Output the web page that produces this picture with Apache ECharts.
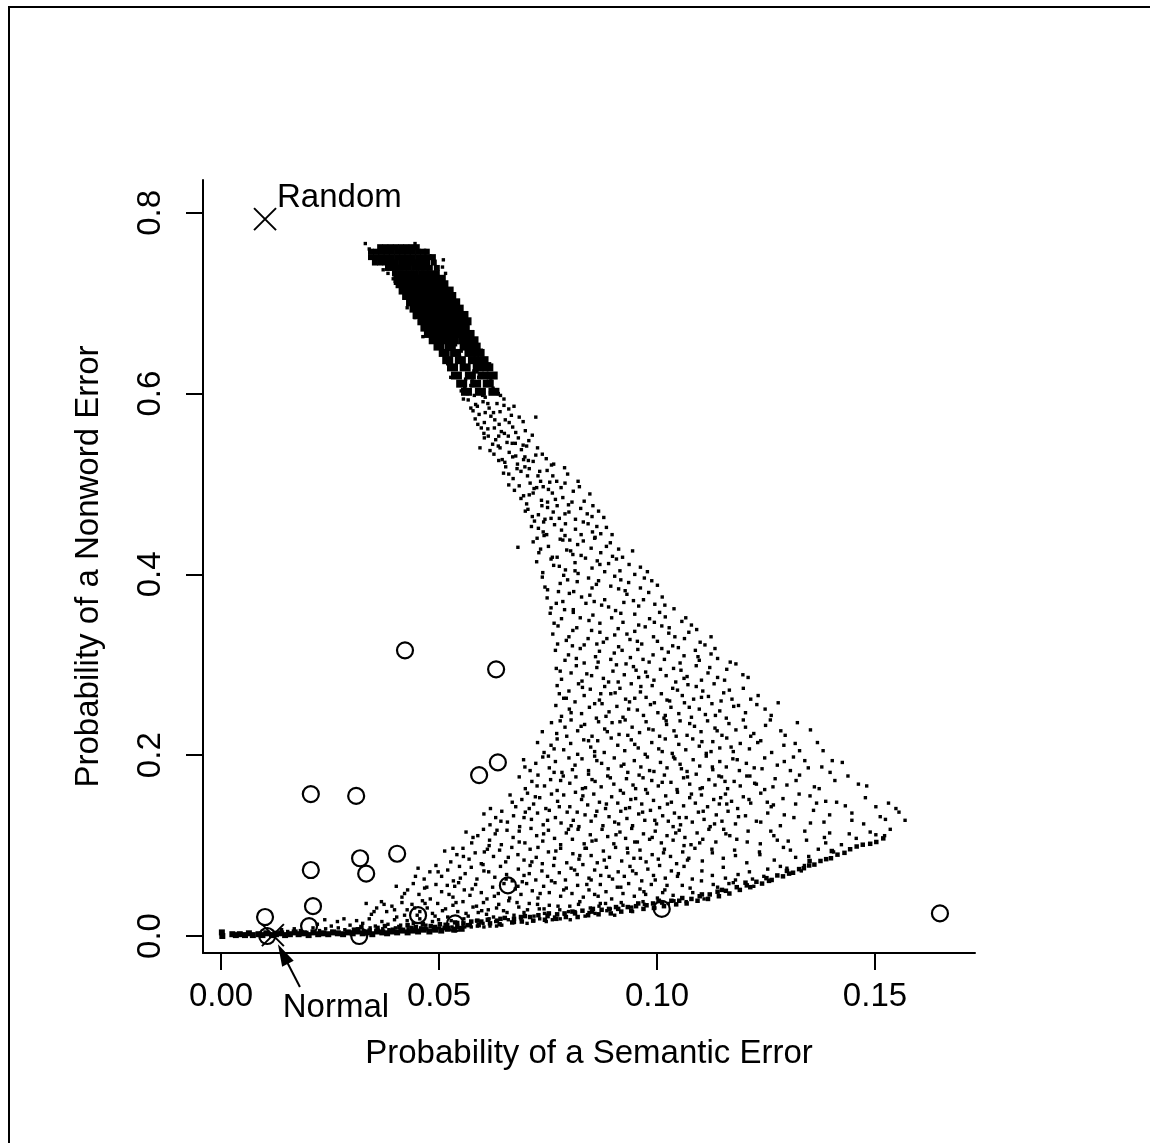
<!DOCTYPE html>
<html><head><meta charset="utf-8">
<script src="https://cdn.jsdelivr.net/npm/echarts@6/dist/echarts.min.js"></script>
<style>html,body{margin:0;padding:0;background:#fff}#c{width:1150px;height:1143px}</style>
</head><body><div id="c"></div>
<script>
// ---- tick values ----
const xTicks = [0, 0.05, 0.10, 0.15];
const yTicks = [0, 0.2, 0.4, 0.6, 0.8];

// ---- simulated networks: dense top cluster (solid core) ----
const clusterCore = [
[.0365,.762],[.0377,.762],[.0389,.762],[.0401,.762],[.0413,.762],[.0425,.762],[.0437,.762],[.0449,.762],
[.0344,.757],[.0356,.757],[.0368,.757],[.0380,.757],[.0392,.757],[.0404,.757],[.0416,.757],[.0428,.757],[.0440,.757],[.0452,.757],[.0464,.757],[.0472,.757],
[.0344,.751],[.0356,.751],[.0368,.751],[.0380,.751],[.0392,.751],[.0404,.751],[.0416,.751],[.0428,.751],[.0440,.751],[.0452,.751],[.0464,.751],[.0476,.751],[.0486,.751],
[.0353,.745],[.0365,.745],[.0377,.745],[.0389,.745],[.0401,.745],[.0413,.745],[.0425,.745],[.0437,.745],[.0449,.745],[.0461,.745],[.0473,.745],[.0488,.745],
[.0383,.739],[.0395,.739],[.0407,.739],[.0419,.739],[.0431,.739],[.0443,.739],[.0455,.739],[.0467,.739],[.0479,.739],[.0495,.739],
[.0399,.733],[.0411,.733],[.0423,.733],[.0435,.733],[.0447,.733],[.0459,.733],[.0471,.733],[.0483,.733],[.0495,.733]
];

// ---- upper stem, dense part ----
const stemDense = [
[.0408,.727],[.0425,.727],[.0447,.727],[.0466,.727],[.0489,.727],[.0503,.727],
[.0413,.721],[.0432,.721],[.0455,.721],[.0474,.721],[.0495,.721],[.0509,.721],
[.0420,.714],[.0441,.714],[.0460,.714],[.0483,.714],[.0502,.714],[.0521,.714],
[.0428,.708],[.0446,.708],[.0469,.708],[.0490,.708],[.0511,.708],[.0527,.708],
[.0437,.701],[.0455,.701],[.0478,.701],[.0497,.701],[.0519,.701],[.0536,.701],
[.0445,.694],[.0466,.694],[.0486,.694],[.0508,.694],[.0530,.694],[.0544,.694],
[.0452,.687],[.0474,.687],[.0493,.687],[.0516,.687],[.0538,.687],[.0555,.687],
[.0463,.680],[.0481,.680],[.0504,.680],[.0525,.680],[.0547,.680],[.0562,.680],
[.0470,.673],[.0492,.673],[.0513,.673],[.0536,.673],[.0558,.673],
[.0478,.666],[.0500,.666],[.0522,.666],[.0545,.666],[.0569,.666],
[.0489,.659],[.0511,.659],[.0533,.659],[.0557,.659],[.0578,.659],
[.0500,.652],[.0526,.652],[.0560,.652],[.0583,.652],
[.0512,.645],[.0538,.645],[.0571,.645],[.0592,.645],
[.0520,.637],[.0549,.637],[.0579,.637],[.0601,.637],
[.0531,.629],[.0560,.629],[.0590,.629],[.0612,.629],
[.0540,.620],[.0572,.620],[.0601,.620],[.0622,.620],
[.0552,.611],[.0584,.611],[.0613,.611],
[.0563,.602],[.0595,.602],[.0626,.602]
];

// ---- stem, scattered dots ----
const stemDots = [
[.0331,.766],[.0445,.766],[.0340,.760],[.0510,.748],[.0508,.740],[.0383,.733],[.0395,.727],[.0400,.722],[.0372,.737],[.0515,.733],
[.0427,.695],[.0445,.684],[.0463,.663],[.0484,.659],
[.0505,.652],[.0523,.649],[.0538,.654],[.0551,.647],[.0569,.651],[.0584,.645],[.0512,.643],[.0547,.641],[.0575,.639],[.0597,.648],
[.0520,.633],[.0534,.628],[.0552,.636],[.0566,.630],[.0580,.625],[.0600,.633],[.0613,.627],[.0541,.622],[.0572,.620],[.0591,.618],[.0527,.618],
[.0545,.612],[.0559,.607],[.0577,.614],[.0592,.604],[.0608,.611],[.0624,.606],[.0636,.600],[.0565,.600],[.0600,.598],[.0551,.603],
[.0567,.593],[.0584,.588],[.0601,.591],[.0615,.584],[.0633,.589],[.0649,.594],[.0660,.583],[.0578,.581],[.0625,.579],[.0592,.577],
[.0583,.572],[.0604,.568],[.0619,.575],[.0638,.566],[.0652,.571],[.0669,.563],[.0684,.574],[.0612,.561],[.0643,.558],[.0597,.562],
[.0613,.553],[.0630,.549],[.0650,.556],[.0668,.545],[.0682,.551],[.0701,.542],[.0714,.554],[.0640,.540],[.0689,.538],[.0623,.544],
[.0626,.533],[.0645,.527],[.0661,.535],[.0680,.522],[.0697,.530],[.0716,.525],[.0737,.533],[.0758,.521],[.0653,.519],[.0707,.517],
[.0648,.512],[.0670,.506],[.0688,.514],[.0709,.501],[.0727,.509],[.0748,.515],[.0770,.503],[.0795,.511],[.0660,.499],[.0739,.497],
[.0673,.493],[.0694,.487],[.0718,.495],[.0735,.482],[.0760,.490],[.0784,.485],[.0808,.492],[.0833,.481],[.0701,.478],[.0771,.476],
[.0704,.472],[.0728,.466],[.0749,.474],[.0776,.462],[.0798,.469],[.0825,.473],[.0851,.464],[.0866,.470],[.0740,.458],
[.0712,.453],[.0739,.447],[.0765,.455],[.0789,.443],[.0813,.450],[.0842,.456],[.0871,.445],[.0884,.452],[.0725,.440],[.0800,.438],
[.0594,.540],[.0722,.574],[.0681,.430],[.0616,.633],
[.0573,.609],[.0606,.596],[.0588,.586],[.0628,.571],[.0603,.556],[.0659,.553],[.0636,.542],[.0676,.531],[.0651,.524],[.0703,.509],[.0679,.517],[.0724,.496],[.0754,.502],[.0688,.484],[.0749,.480],[.0797,.477],[.0714,.464],[.0762,.469],[.0813,.461],[.0853,.476],[.0728,.451],[.0781,.449],[.0826,.444],[.0858,.441],[.0693,.569],[.0666,.576],[.0641,.598],[.0612,.589],[.0675,.545],[.0726,.540],[.0694,.527],[.0731,.514],[.0763,.522],[.0780,.496],[.0819,.503],[.0846,.489],[.0707,.488],[.0743,.461],[.0790,.456],[.0878,.463],
[.0561,.616],[.0587,.624],[.0619,.617],[.0556,.594],[.0581,.598],[.0618,.601],[.0649,.587],[.0573,.584],[.0606,.579],[.0640,.580],[.0672,.586],[.0589,.566],[.0627,.562],[.0661,.568],[.0698,.559],[.0604,.551],[.0637,.553],[.0676,.557],[.0706,.548],[.0617,.537],[.0656,.546],[.0693,.543],[.0722,.532],[.0637,.526],[.0669,.530],[.0705,.526],[.0746,.528],[.0660,.511],[.0697,.519],[.0733,.503],[.0761,.509],[.0788,.518],[.0684,.498],[.0716,.490],[.0751,.494],[.0789,.501],[.0822,.497],[.0698,.470],[.0736,.476],[.0767,.483],[.0805,.480],[.0840,.467],[.0719,.459],[.0757,.462],[.0789,.467],[.0831,.458],[.0862,.453],[.0747,.444],[.0778,.439],[.0852,.447],[.0897,.444]
];

// ---- fan, upper half (y 0.20 - 0.44) ----
const fanUpper = [
[.0716,.436],[.0729,.424],[.0751,.431],[.0760,.419],[.0784,.438],[.0793,.427],[.0818,.433],[.0826,.421],[.0849,.429],[.0857,.440],[.0871,.424],[.0893,.435],[.0898,.420],[.0912,.428],[.0741,.443],[.0807,.422],
[.0724,.414],[.0738,.402],[.0763,.410],[.0771,.419],[.0790,.405],[.0812,.413],[.0819,.401],[.0836,.418],[.0851,.407],[.0863,.415],[.0880,.403],[.0889,.412],[.0907,.417],[.0915,.404],[.0936,.411],[.0949,.400],[.0962,.408],[.0978,.403],
[.0737,.397],[.0749,.383],[.0778,.390],[.0786,.399],[.0809,.381],[.0817,.392],[.0843,.396],[.0851,.385],[.0866,.393],[.0894,.387],[.0903,.398],[.0927,.382],[.0935,.391],[.0962,.385],[.0971,.396],[.1001,.388],
[.0748,.374],[.0757,.363],[.0784,.370],[.0799,.379],[.0808,.361],[.0837,.368],[.0846,.377],[.0873,.366],[.0880,.372],[.0905,.360],[.0924,.369],[.0931,.378],[.0958,.365],[.0969,.372],[.0995,.367],[.1012,.375],[.1039,.362],
[.0755,.357],[.0773,.343],[.0781,.351],[.0808,.358],[.0816,.341],[.0844,.349],[.0853,.355],[.0869,.346],[.0896,.352],[.0911,.340],[.0922,.347],[.0949,.356],[.0958,.344],[.0983,.351],[.0994,.347],[.1019,.353],[.1028,.341],[.1057,.348],[.1079,.344],
[.0761,.334],[.0772,.323],[.0798,.331],[.0807,.338],[.0833,.322],[.0842,.329],[.0869,.336],[.0877,.325],[.0903,.333],[.0912,.320],[.0938,.328],[.0949,.337],[.0965,.323],[.0992,.331],[.1001,.326],[.1027,.335],[.1036,.321],[.1063,.329],[.1073,.336],[.1099,.325],[.1124,.331],
[.0767,.316],[.0789,.305],[.0797,.311],[.0824,.318],[.0833,.302],[.0859,.309],[.0868,.315],[.0894,.306],[.0902,.313],[.0929,.301],[.0939,.308],[.0956,.317],[.0982,.303],[.0991,.311],[.1017,.306],[.1026,.314],[.1053,.302],[.1062,.310],[.1088,.316],[.1097,.305],[.1124,.312],[.1139,.307],[.1168,.303],
[.0769,.296],[.0781,.284],[.0803,.291],[.0815,.299],[.0828,.282],[.0850,.288],[.0862,.297],[.0877,.285],[.0899,.293],[.0911,.281],[.0925,.289],[.0946,.298],[.0958,.286],[.0974,.292],[.0993,.283],[.1008,.295],[.1021,.288],[.1043,.281],[.1055,.294],[.1069,.287],[.1090,.299],[.1102,.283],[.1117,.291],[.1139,.286],[.1160,.295],[.1197,.289],
[.0771,.277],[.0786,.263],[.0798,.271],[.0820,.279],[.0833,.266],[.0847,.273],[.0868,.261],[.0880,.276],[.0894,.268],[.0915,.274],[.0928,.262],[.0941,.279],[.0962,.270],[.0975,.264],[.0989,.277],[.1010,.268],[.1023,.261],[.1036,.274],[.1058,.266],[.1071,.278],[.1084,.262],[.1105,.271],[.1118,.265],[.1131,.279],[.1153,.269],[.1172,.262],[.1198,.274],[.1232,.266],
[.0768,.255],[.0781,.243],[.0799,.251],[.0812,.259],[.0827,.246],[.0845,.253],[.0861,.241],[.0874,.257],[.0890,.248],[.0908,.254],[.0922,.242],[.0937,.259],[.0955,.250],[.0969,.244],[.0985,.256],[.1002,.247],[.1016,.241],[.1032,.253],[.1050,.246],[.1063,.258],[.1079,.242],[.1097,.251],[.1111,.245],[.1126,.257],[.1144,.249],[.1159,.241],[.1176,.254],[.1203,.247],[.1229,.256],[.1262,.244],
[.0758,.236],[.0770,.224],[.0789,.231],[.0803,.239],[.0818,.227],[.0834,.234],[.0851,.221],[.0866,.237],[.0880,.229],[.0897,.236],[.0913,.223],[.0927,.239],[.0943,.231],[.0960,.225],[.0975,.237],[.0991,.228],[.1006,.221],[.1022,.234],[.1039,.227],[.1053,.238],[.1069,.222],[.1086,.232],[.1101,.226],[.1116,.238],[.1133,.230],[.1149,.222],[.1165,.235],[.1181,.228],[.1198,.239],[.1222,.224],[.1249,.233],[.1284,.227],[.1322,.236],
[.0726,.214],[.0741,.203],[.0757,.211],[.0771,.218],[.0786,.206],[.0802,.213],[.0818,.201],[.0832,.217],[.0848,.209],[.0864,.216],[.0879,.203],[.0895,.219],[.0910,.211],[.0926,.205],[.0941,.217],[.0957,.208],[.0973,.201],[.0988,.214],[.1004,.207],[.1019,.218],[.1035,.202],[.1050,.212],[.1066,.206],[.1082,.218],[.1097,.210],[.1113,.202],[.1128,.215],[.1144,.208],[.1160,.219],[.1175,.204],[.1191,.213],[.1212,.207],[.1238,.216],[.1263,.203],[.1291,.211],[.1327,.205],[.1368,.214]
];

// ---- fan, lower half (y 0.00 - 0.20) ----
const fanLower = [
[.0694,.195],[.0709,.183],[.0722,.191],[.0738,.198],[.0753,.186],[.0767,.193],[.0782,.181],[.0798,.197],[.0812,.189],[.0828,.196],[.0843,.183],[.0857,.199],[.0873,.191],[.0888,.185],[.0902,.197],[.0918,.188],[.0933,.181],[.0948,.194],[.0963,.187],[.0978,.198],[.0993,.182],[.1008,.192],[.1023,.186],[.1038,.198],[.1053,.190],[.1069,.182],[.1083,.195],[.1098,.188],[.1113,.199],[.1128,.184],[.1144,.193],[.1159,.187],[.1174,.196],[.1189,.183],[.1205,.191],[.1223,.186],[.1247,.197],[.1276,.189],[.1306,.183],[.1339,.194],[.1378,.187],[.1425,.192],
[.0684,.176],[.0698,.163],[.0713,.171],[.0727,.178],[.0742,.166],[.0756,.173],[.0771,.161],[.0785,.177],[.0800,.169],[.0814,.176],[.0829,.163],[.0843,.179],[.0858,.171],[.0872,.165],[.0887,.177],[.0901,.168],[.0916,.161],[.0930,.174],[.0945,.167],[.0959,.178],[.0974,.162],[.0988,.172],[.1003,.166],[.1017,.178],[.1032,.170],[.1046,.162],[.1061,.175],[.1075,.168],[.1090,.179],[.1104,.164],[.1119,.173],[.1133,.167],[.1148,.176],[.1162,.163],[.1177,.171],[.1191,.166],[.1206,.177],[.1224,.169],[.1247,.162],[.1271,.174],[.1298,.167],[.1327,.178],[.1361,.165],[.1408,.172],[.1462,.168],
[.0663,.156],[.0676,.143],[.0690,.151],[.0703,.158],[.0717,.146],[.0731,.153],[.0745,.141],[.0758,.157],[.0772,.149],[.0786,.156],[.0800,.143],[.0813,.159],[.0827,.151],[.0841,.145],[.0855,.157],[.0868,.148],[.0882,.141],[.0896,.154],[.0910,.147],[.0923,.158],[.0937,.142],[.0951,.152],[.0965,.146],[.0978,.158],[.0992,.150],[.1006,.142],[.1020,.155],[.1033,.148],[.1047,.159],[.1061,.144],[.1075,.153],[.1088,.147],[.1102,.156],[.1116,.143],[.1130,.151],[.1143,.146],[.1157,.157],[.1171,.149],[.1185,.141],[.1198,.154],[.1215,.147],[.1238,.158],[.1262,.143],[.1289,.152],[.1318,.146],[.1351,.155],[.1387,.149],[.1432,.144],[.1478,.153],[.1531,.147],
[.0603,.135],[.0617,.123],[.0630,.131],[.0644,.138],[.0657,.126],[.0671,.133],[.0685,.121],[.0698,.137],[.0712,.129],[.0726,.136],[.0739,.123],[.0753,.139],[.0767,.131],[.0780,.125],[.0794,.137],[.0808,.128],[.0821,.121],[.0835,.134],[.0849,.127],[.0862,.138],[.0876,.122],[.0890,.132],[.0903,.126],[.0917,.138],[.0931,.130],[.0944,.122],[.0958,.135],[.0972,.128],[.0985,.139],[.0999,.124],[.1013,.133],[.1026,.127],[.1040,.136],[.1054,.123],[.1067,.131],[.1081,.126],[.1095,.137],[.1108,.129],[.1122,.121],[.1136,.134],[.1149,.127],[.1163,.138],[.1180,.124],[.1203,.133],[.1228,.127],[.1254,.136],[.1283,.122],[.1314,.131],[.1352,.125],[.1396,.134],[.1447,.128],[.1512,.132],
[.1548,.141],[.1569,.128],[.1535,.118],[.1502,.112],
[.0562,.115],[.0575,.103],[.0589,.111],[.0602,.118],[.0616,.106],[.0629,.113],[.0643,.101],[.0656,.117],[.0670,.109],[.0684,.116],[.0697,.103],[.0711,.119],[.0724,.111],[.0738,.105],[.0751,.117],[.0765,.108],[.0779,.101],[.0792,.114],[.0806,.107],[.0819,.118],[.0833,.102],[.0847,.112],[.0860,.106],[.0874,.118],[.0887,.110],[.0901,.102],[.0915,.115],[.0928,.108],[.0942,.119],[.0955,.104],[.0969,.113],[.0983,.107],[.0996,.116],[.1010,.103],[.1023,.111],[.1037,.106],[.1051,.117],[.1064,.109],[.1078,.101],[.1092,.114],[.1105,.107],[.1119,.118],[.1135,.104],[.1158,.113],[.1183,.107],[.1209,.116],[.1237,.102],[.1268,.111],[.1301,.105],[.1339,.116],[.1384,.109],[.1441,.113],
[.0513,.094],[.0527,.082],[.0541,.090],[.0555,.097],[.0569,.085],[.0583,.092],[.0597,.080],[.0611,.096],[.0625,.088],[.0639,.095],[.0653,.082],[.0667,.098],[.0681,.090],[.0695,.084],[.0709,.096],[.0723,.087],[.0737,.080],[.0751,.093],[.0765,.086],[.0779,.097],[.0793,.081],[.0807,.091],[.0821,.085],[.0835,.097],[.0849,.089],[.0863,.081],[.0877,.094],[.0891,.087],[.0905,.098],[.0919,.083],[.0933,.092],[.0947,.086],[.0961,.095],[.0975,.082],[.0989,.090],[.1003,.085],[.1017,.096],[.1031,.088],[.1045,.080],[.1059,.093],[.1073,.086],[.1087,.097],[.1104,.083],[.1127,.092],[.1152,.086],[.1178,.095],[.1206,.081],[.1236,.090],[.1269,.084],[.1306,.095],[.1348,.088],[.1405,.093],
[.0452,.075],[.0466,.063],[.0479,.071],[.0493,.078],[.0506,.066],[.0520,.073],[.0533,.061],[.0547,.077],[.0560,.069],[.0574,.076],[.0587,.063],[.0601,.079],[.0614,.071],[.0628,.065],[.0641,.077],[.0655,.068],[.0668,.061],[.0682,.074],[.0695,.067],[.0709,.078],[.0722,.062],[.0736,.072],[.0749,.066],[.0763,.078],[.0776,.070],[.0790,.062],[.0803,.075],[.0817,.068],[.0830,.079],[.0844,.064],[.0857,.073],[.0871,.067],[.0884,.076],[.0898,.063],[.0911,.071],[.0925,.066],[.0938,.077],[.0952,.069],[.0965,.061],[.0979,.074],[.0992,.067],[.1006,.078],[.1019,.064],[.1033,.072],[.1047,.066],[.1062,.077],[.1081,.063],[.1103,.072],[.1127,.067],[.1152,.076],[.1180,.062],[.1212,.071],[.1245,.066],[.1283,.077],[.1331,.072],
[.0402,.055],[.0415,.043],[.0428,.051],[.0441,.058],[.0454,.046],[.0467,.053],[.0480,.041],[.0493,.057],[.0506,.049],[.0519,.056],[.0532,.043],[.0545,.059],[.0558,.051],[.0571,.045],[.0584,.057],[.0597,.048],[.0610,.041],[.0623,.054],[.0636,.047],[.0649,.058],[.0662,.042],[.0675,.052],[.0688,.046],[.0701,.058],[.0714,.050],[.0727,.042],[.0740,.055],[.0753,.048],[.0766,.059],[.0779,.044],[.0792,.053],[.0805,.047],[.0818,.056],[.0831,.043],[.0844,.051],[.0857,.046],[.0870,.057],[.0883,.049],[.0896,.041],[.0909,.054],[.0922,.047],[.0935,.058],[.0948,.044],[.0961,.052],[.0974,.046],[.0987,.057],[.1001,.042],[.1018,.051],[.1037,.045],[.1058,.056],[.1082,.048],[.1108,.041],[.1139,.054],[.1175,.059],[.1222,.055],
[.0333,.036],[.0345,.024],[.0357,.031],[.0368,.038],[.0380,.027],[.0392,.033],[.0403,.021],[.0415,.037],[.0427,.029],[.0438,.035],[.0450,.023],[.0462,.039],[.0473,.031],[.0485,.025],[.0497,.036],[.0508,.028],[.0520,.021],[.0532,.034],[.0543,.027],[.0555,.038],[.0567,.022],[.0578,.032],[.0590,.026],[.0602,.037],[.0613,.029],[.0625,.021],[.0637,.035],[.0648,.028],[.0660,.039],[.0672,.023],[.0683,.032],[.0695,.026],[.0707,.036],[.0718,.022],[.0730,.030],[.0742,.025],[.0753,.034],[.0765,.021],[.0777,.029],[.0788,.024],[.0800,.033],[.0812,.027],[.0823,.038],[.0835,.022],[.0847,.031],[.0858,.025],[.0870,.036],[.0885,.028],[.0903,.023],[.0922,.034],[.0944,.027],[.0968,.038],[.0995,.031],[.1026,.036],[.1067,.038],
[.0221,.013],[.0238,.018],[.0253,.011],[.0267,.016],[.0282,.019],[.0296,.012],[.0311,.017],[.0325,.014],[.0340,.019],[.0354,.011],[.0369,.016],[.0383,.013],[.0398,.018],[.0412,.012],[.0427,.017],[.0441,.014],[.0456,.019],[.0470,.012],[.0485,.016],[.0499,.018],[.0514,.013],[.0528,.017],[.0543,.015],[.0557,.019],[.0572,.013],[.0586,.017],[.0601,.014],[.0615,.019],[.0630,.016],[.0644,.012],[.0659,.018],[.0673,.015],[.0688,.019],[.0702,.014],[.0717,.017],[.0731,.019],[.0746,.016],[.0760,.018],[.0778,.019],[.0801,.018],
[.0124,.004],[.0139,.007],[.0153,.005],[.0168,.008],[.0182,.006],[.0197,.004],[.0211,.009],[.0226,.006],[.0240,.008],[.0255,.005],[.0269,.009],[.0284,.007],[.0298,.004],[.0313,.008],[.0327,.006],[.0342,.009],[.0356,.005],[.0371,.008],[.0385,.007],[.0400,.009],[.0414,.006],[.0429,.008],[.0443,.007],[.0458,.009],[.0472,.008],[.0487,.007],[.0501,.009],[.0516,.008],[.0530,.010],[.0545,.009],[.0559,.010],[.0574,.010],[.0588,.011],[.0603,.010],[.0617,.011],[.0632,.011]
];

// ---- fan, further scattered networks between the rows above ----
const fanExtra = [
[.0733,.428],[.0776,.409],[.0802,.426],[.0831,.437],[.0869,.411],[.0884,.431],[.0921,.419],[.0944,.426],[.0757,.417],[.0812,.404],
[.0743,.386],[.0769,.368],[.0795,.394],[.0827,.375],[.0861,.389],[.0889,.364],[.0917,.394],[.0946,.371],[.0981,.380],[.1018,.366],[.0774,.381],[.0856,.370],[.0912,.384],[.0988,.393],
[.0764,.346],[.0792,.327],[.0824,.352],[.0850,.338],[.0885,.329],[.0917,.357],[.0931,.334],[.0973,.342],[.1006,.358],[.1041,.331],[.1066,.352],[.1091,.339],[.0788,.361],[.0862,.323],[.0955,.326],[.1011,.343],[.1110,.322],
[.0778,.293],[.0806,.321],[.0839,.290],[.0865,.303],[.0889,.281],[.0920,.316],[.0952,.294],[.0978,.287],[.1011,.318],[.1038,.296],[.1062,.285],[.1094,.309],[.1121,.297],[.1155,.283],[.1181,.301],[.1209,.286],[.0815,.307],[.0907,.300],[.0968,.306],[.1049,.319],[.1133,.318],
[.0776,.268],[.0803,.247],[.0829,.275],[.0857,.257],[.0883,.243],[.0904,.269],[.0935,.251],[.0963,.276],[.0994,.258],[.1019,.244],[.1047,.272],[.1074,.253],[.1102,.264],[.1134,.244],[.1166,.272],[.1187,.255],[.1215,.262],[.1248,.251],[.1278,.258],[.0792,.263],[.0871,.268],[.0949,.263],[.1029,.260],[.1090,.276],[.1147,.260],
[.0737,.226],[.0764,.207],[.0793,.221],[.0826,.232],[.0857,.204],[.0886,.226],[.0915,.237],[.0949,.212],[.0981,.229],[.1012,.204],[.1044,.221],[.1075,.235],[.1103,.215],[.1138,.227],[.1170,.209],[.1203,.231],[.1231,.214],[.1260,.239],[.1294,.222],[.1317,.213],[.1352,.228],[.1381,.205],[.0778,.238],[.0843,.216],[.0933,.222],[.1021,.238],[.1124,.204],[.1215,.221],
[.0697,.187],[.0725,.166],[.0751,.199],[.0779,.172],[.0806,.184],[.0836,.164],[.0862,.194],[.0893,.175],[.0924,.190],[.0951,.163],[.0983,.183],[.1012,.170],[.1041,.196],[.1070,.176],[.1099,.163],[.1127,.187],[.1156,.171],[.1184,.195],[.1213,.177],[.1241,.185],[.1266,.165],[.1292,.193],[.1319,.172],[.1347,.186],[.1372,.163],[.1397,.181],[.1438,.177],[.1481,.166],[.0764,.181],[.0851,.173],[.0968,.175],[.1056,.185],[.1142,.177],[.1228,.168],[.1313,.198],[.1402,.194],
[.0618,.141],[.0642,.127],[.0668,.148],[.0695,.131],[.0721,.154],[.0749,.128],[.0776,.143],[.0803,.122],[.0830,.155],[.0859,.133],[.0884,.146],[.0912,.124],[.0940,.151],[.0967,.137],[.0995,.128],[.1024,.146],[.1051,.131],[.1079,.157],[.1106,.138],[.1132,.124],[.1160,.146],[.1187,.132],[.1211,.151],[.1238,.126],[.1267,.145],[.1292,.134],[.1326,.157],[.1359,.139],[.1383,.126],[.1412,.148],[.1447,.136],[.1474,.124],[.1502,.143],[.1524,.129],[.1555,.137],[.0707,.141],[.0817,.137],[.0928,.141],[.1037,.121],[.1146,.153],[.1253,.148],[.1366,.147],
[.0532,.097],[.0556,.088],[.0578,.109],[.0604,.093],[.0633,.117],[.0659,.087],[.0684,.104],[.0713,.082],[.0740,.113],[.0768,.094],[.0797,.118],[.0823,.089],[.0851,.105],[.0879,.084],[.0906,.112],[.0932,.097],[.0962,.086],[.0989,.109],[.1015,.092],[.1043,.114],[.1070,.084],[.1098,.103],[.1126,.096],[.1153,.118],[.1180,.089],[.1207,.104],[.1235,.093],[.1261,.116],[.1290,.098],[.1318,.087],[.1343,.106],[.1370,.096],[.1396,.114],[.1423,.101],[.1457,.108],[.1489,.115],[.1522,.111],[.0615,.100],[.0727,.098],[.0838,.097],[.0949,.104],[.1062,.100],[.1167,.111],[.1276,.106],[.1387,.103],
[.0421,.047],[.0446,.066],[.0472,.054],[.0498,.071],[.0523,.046],[.0549,.064],[.0576,.052],[.0603,.072],[.0627,.044],[.0654,.063],[.0681,.055],[.0707,.069],[.0732,.047],[.0758,.061],[.0786,.051],[.0811,.073],[.0839,.057],[.0865,.044],[.0890,.066],[.0917,.054],[.0944,.072],[.0970,.049],[.0996,.062],[.1023,.056],[.1049,.069],[.1076,.053],[.1102,.061],[.1129,.057],[.1157,.064],[.1186,.068],[.1219,.063],[.1254,.074],[.1298,.075],[.1338,.078],[.0536,.055],[.0691,.060],[.0849,.062],[.1013,.048],[.1165,.058],
[.0351,.027],[.0374,.035],[.0398,.029],[.0421,.023],[.0444,.031],[.0468,.036],[.0491,.022],[.0515,.030],[.0539,.037],[.0562,.025],[.0586,.033],[.0609,.024],[.0632,.031],[.0656,.026],[.0679,.037],[.0703,.029],[.0726,.035],[.0750,.024],[.0773,.033],[.0797,.027],[.0820,.035],[.0844,.026],[.0867,.033],[.0893,.030],[.0918,.037],[.0942,.032],[.0971,.035],[.1003,.038],[.1039,.039],[.0456,.027],[.0598,.028],[.0741,.030],[.0882,.036]
];

// ---- dense lower rim of the fan ----
const rimDots = [
[.0412,.007],[.0437,.009],[.0466,.008],[.0491,.010],[.0513,.009],[.0542,.011],[.0566,.012],[.0591,.012],[.0617,.014],[.0639,.013],[.0668,.015],[.0690,.016],[.0716,.017],[.0743,.018],[.0769,.019],[.0791,.021],[.0818,.021],[.0842,.023],[.0866,.024],[.0894,.025],[.0918,.027],[.0941,.028],[.0969,.030],[.0993,.031],[.1016,.033],[.1044,.035],[.1068,.036],[.1093,.039],[.1117,.041],[.1142,.044],[.1166,.047],[.1190,.051],[.1214,.054],[.1241,.058],[.1263,.062],[.1289,.066],[.1312,.070],[.1337,.075],[.1361,.079],[.1388,.085],[.1414,.090],[.1443,.096],[.1472,.101],[.1503,.104],
[.0588,.017],[.0641,.019],[.0697,.022],[.0752,.025],[.0806,.027],[.0853,.030],[.0906,.032],[.0957,.036],[.1004,.039],[.1058,.042],[.1103,.046],[.1149,.051],[.1203,.059],[.1251,.064],[.1298,.072],[.1350,.083],[.1401,.094],
[.0305,.007],[.0322,.010],[.0341,.006],[.0359,.009],[.0376,.011],[.0394,.007],[.0409,.010],[.0428,.012],[.0447,.010],[.0463,.013],[.0481,.011],[.0502,.013],[.0519,.012],[.0537,.015],[.0556,.014],[.0574,.016],[.0597,.016],[.0612,.018],[.0633,.017],[.0651,.020],[.0672,.019],[.0688,.021],[.0709,.021],[.0728,.023],[.0749,.022],[.0771,.024],[.0788,.025],[.0812,.025],[.0829,.028],[.0851,.027],[.0873,.029],[.0890,.030],[.0911,.030],[.0933,.032],[.0952,.033],[.0976,.034],[.0991,.036],[.1012,.037],[.1033,.039],[.1051,.039],[.1079,.041],[.1098,.044],[.1121,.046],[.1139,.049],[.1158,.050],[.1183,.054],[.1206,.056],[.1228,.060],[.1257,.061],[.1276,.067],[.1303,.069],[.1326,.074],[.1349,.078],[.1375,.083],[.1399,.086],[.1430,.092],[.1458,.099],[.1489,.102],[.1519,.108]
];

// ---- base line of nearly error-free networks ----
const baseDots = [
[.0002,.004],[.0003,.000],[.0026,.002],[.0034,.001],[.0043,.002],[.0055,.001],[.0064,.003],[.0073,.001],[.0086,.002],[.0095,.001],[.0104,.003],[.0117,.001],[.0126,.002],[.0138,.003],[.0147,.001],[.0158,.002],[.0169,.004],[.0178,.002],[.0190,.003],[.0201,.001],[.0212,.004],[.0223,.002],[.0235,.003],[.0246,.002],[.0257,.004],[.0268,.003],[.0280,.002],[.0291,.004],[.0302,.003],[.0313,.005],[.0325,.003],[.0336,.004],[.0347,.002],[.0358,.005],[.0370,.004],[.0381,.003],[.0393,.005],[.0404,.004],[.0416,.006],[.0428,.004],[.0440,.006],[.0452,.005],[.0465,.007],[.0478,.005],[.0491,.007],[.0505,.006],[.0520,.008],[.0535,.007],[.0552,.008]
];

// ---- patients (open circles) ----
const patientX = [.0422,.0631,.0635,.0592,.0206,.0310,.0319,.0404,.0206,.0333,.0211,.0101,.0202,.0106,.0317,.0452,.0658,.0537,.1011,.1649];
const patientY = [.316,.295,.192,.178,.157,.155,.086,.091,.073,.069,.033,.021,.011,.000,.000,.023,.056,.014,.030,.025];

// ---- reference networks (crosses) ----
const markerNames = ['Random', 'Normal'];
const markerX = [.0101, .0119];
const markerY = [.793, .001];

// ---- arrow pointing at "Normal" ----
const arrowTail = [.0181, -.0564];
const arrowHead = [.0142, -.0199];

const FONT = '"Liberation Sans", Arial, Helvetica, sans-serif';
const K = '#000';

function dots(data, size) {
  return {type:'scatter', data:data, symbol:'rect', symbolSize:size,
    itemStyle:{color:K, opacity:1}, emphasis:{disabled:true}, silent:true, z:2};
}

const chart = echarts.init(document.getElementById('c'), null, {renderer:'canvas'});
chart.setOption({
  animation:false,
  backgroundColor:'#fff',
  graphic:[{type:'rect', silent:true, shape:{x:9, y:7, width:1400, height:1400},
    style:{fill:null, stroke:K, lineWidth:2}}],
  grid:{left:203, top:180, width:772, height:773, containLabel:false},
  xAxis:{type:'value', min:-0.00413, max:0.17294,
    axisLine:{show:true, onZero:false, lineStyle:{color:K, width:2}},
    axisTick:{show:true, length:17, lineStyle:{color:K, width:2}, customValues:xTicks},
    axisLabel:{customValues:xTicks, formatter:v=>v.toFixed(2), fontSize:33, color:K, margin:27, fontFamily:FONT},
    splitLine:{show:false},
    name:'Probability of a Semantic Error', nameLocation:'middle', nameGap:84,
    nameTextStyle:{fontSize:33, color:K, fontFamily:FONT}},
  yAxis:{type:'value', min:-0.0188, max:0.8363,
    axisLine:{show:true, onZero:false, lineStyle:{color:K, width:2}},
    axisTick:{show:true, length:17, lineStyle:{color:K, width:2}, customValues:yTicks},
    axisLabel:{customValues:yTicks, formatter:v=>v.toFixed(1), rotate:90, fontSize:33, color:K, margin:36, fontFamily:FONT},
    splitLine:{show:false},
    name:'Probability of a Nonword Error', nameLocation:'middle', nameGap:98, nameRotate:90,
    nameTextStyle:{fontSize:33, color:K, fontFamily:FONT}},
  series:[
    dots(fanUpper, 3.4),
    dots(fanLower, 3.4),
    dots(fanExtra, 3.4),
    dots(stemDots, 3.4),
    dots(rimDots, 4.5),
    dots(baseDots, [6,6]),
    dots(stemDense, [11,8]),
    dots(clusterCore, 6),
    {type:'scatter', z:4, silent:true, emphasis:{disabled:true},
      data:patientX.map((x,i)=>[x, patientY[i]]),
      symbol:'circle', symbolSize:16,
      itemStyle:{color:'rgba(0,0,0,0)', borderColor:K, borderWidth:2.2, opacity:1}},
    {type:'scatter', z:5, silent:true, clip:false, emphasis:{disabled:true},
      data:markerNames.map((n,i)=>({name:n, value:[markerX[i], markerY[i]],
        label: i===0 ? {show:true, position:'right', distance:0, offset:[0,-21], color:K}
                     : {show:true, position:'inside', offset:[63,73], color:K}})),
      symbol:'path://M0 0L20 20M20 0L0 20', symbolSize:22,
      itemStyle:{color:'rgba(0,0,0,0)', borderColor:K, borderWidth:2, opacity:1},
      label:{formatter:'{b}', fontSize:33, color:K, opacity:1, fontFamily:FONT}},
    {type:'line', z:5, silent:true, clip:false, data:[arrowTail, arrowHead],
      showSymbol:false, lineStyle:{color:K, width:2}},
    {type:'scatter', z:6, silent:true, clip:false, emphasis:{disabled:true}, data:[arrowHead],
      symbol:'triangle', symbolSize:[13,22], symbolRotate:27, itemStyle:{color:K, opacity:1}}
  ]
});
</script></body></html>
